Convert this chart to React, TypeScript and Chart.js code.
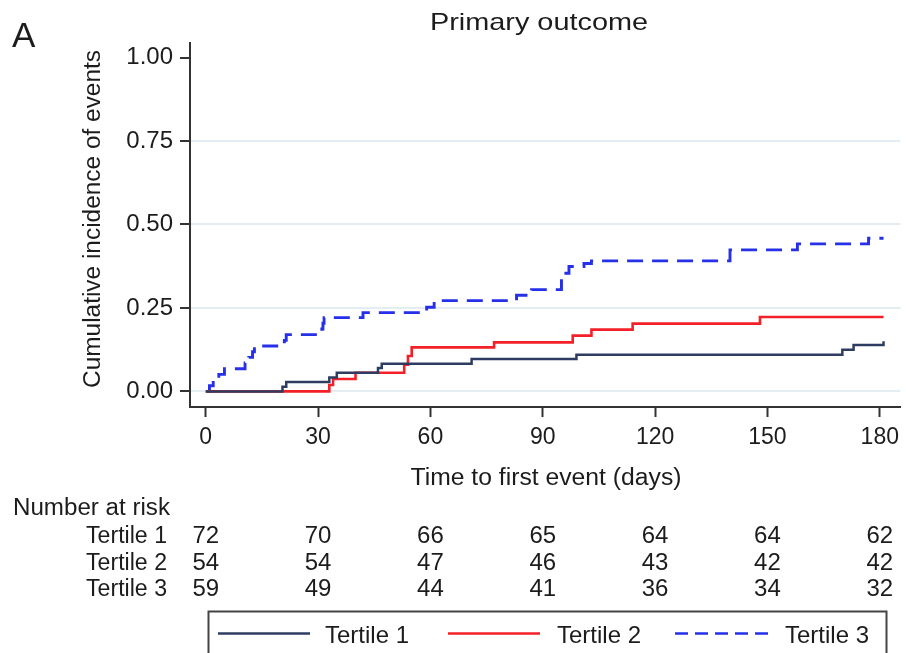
import React, { useEffect, useRef } from "react";
import { Chart, registerables } from "chart.js";

Chart.register(...registerables);

// ---------- data ----------
const xTickValues = [0, 30, 60, 90, 120, 150, 180];
const yTickValues = [0, 0.25, 0.5, 0.75, 1];
const seriesNames = ["Tertile 1", "Tertile 2", "Tertile 3"];

const t1Days = [0, 20.5, 21.5, 33, 35, 46, 47, 71, 99, 170, 173, 181];
const t1Vals = [0, 0.014, 0.028, 0.042, 0.056, 0.07, 0.083, 0.097, 0.11, 0.125, 0.139, 0.15];

const t2Days = [0, 33, 34, 40, 53, 54, 55, 77, 98, 103, 114, 148, 181];
const t2Vals = [0, 0.019, 0.037, 0.056, 0.08, 0.106, 0.132, 0.147, 0.167, 0.185, 0.203, 0.223, 0.223];

const t3Days = [0.5, 1, 2, 3.5, 5, 10.5, 11.5, 12.5, 13, 21, 21.5, 31, 31.3, 31.6, 42, 59, 61, 83, 87, 95, 97, 101, 103, 140, 158, 177, 181];
const t3Vals = [0, 0.017, 0.034, 0.051, 0.068, 0.085, 0.102, 0.119, 0.136, 0.153, 0.17, 0.187, 0.204, 0.221, 0.236, 0.252, 0.272, 0.288, 0.305, 0.354, 0.374, 0.383, 0.391, 0.424, 0.442, 0.459, 0.459];

const risk1 = [72, 70, 66, 65, 64, 64, 62];
const risk2 = [54, 54, 47, 46, 43, 42, 42];
const risk3 = [59, 49, 44, 41, 36, 34, 32];

const titleText = "Primary outcome";
const panelLabel = "A";
const yTitle = "Cumulative incidence of events";
const xTitle = "Time to first event (days)";
const riskHeader = "Number at risk";

// ---------- styles ----------
const FONT = '"Liberation Sans", Arial, Helvetica, sans-serif';
const TEXT = "#1c1c1c";
const AXIS = "#333333";
const GRID = "#e4edf2";
const colors = ["#2f3c62", "#f42028", "#2530e8"];

function drawText(
  ctx: CanvasRenderingContext2D,
  s: string,
  x: number,
  y: number,
  size: number,
  align: CanvasTextAlign,
  targetW?: number,
  rotate = 0
) {
  ctx.save();
  ctx.font = `${size}px ${FONT}`;
  ctx.fillStyle = TEXT;
  ctx.textBaseline = "alphabetic";
  ctx.textAlign = align;
  ctx.translate(x, y);
  if (rotate) ctx.rotate(rotate);
  if (targetW) {
    const w = ctx.measureText(s).width;
    ctx.scale(targetW / w, 1);
  }
  ctx.fillText(s, 0, 0);
  ctx.restore();
}

const decorPlugin = {
  id: "decor",
  afterDraw(chart: any) {
    const ctx: CanvasRenderingContext2D = chart.ctx;
    const xs = chart.scales.x;
    drawText(ctx, panelLabel, 12, 47, 35, "left");
    drawText(ctx, titleText, 539, 30, 24, "center", 218);
    drawText(ctx, yTitle, 100, 219, 23, "center", 338, -Math.PI / 2);
    drawText(ctx, xTitle, 546, 485, 23, "center", 271);
    drawText(ctx, riskHeader, 13, 515, 23, "left", 157);

    const rows = [risk1, risk2, risk3];
    const baselines = [543, 569.5, 596];
    rows.forEach((row, r) => {
      drawText(ctx, seriesNames[r], 167, baselines[r], 23, "right", 81);
      row.forEach((n, i) => {
        const px = xs.getPixelForValue(xTickValues[i]);
        drawText(ctx, String(n), px, baselines[r], 24, "center");
      });
    });

    // legend box
    ctx.save();
    ctx.strokeStyle = "#444";
    ctx.lineWidth = 2;
    ctx.strokeRect(208.5, 611.5, 678, 60);
    const ly = 633.5;
    const items = [
      { x0: 218, x1: 310, tx: 325, dash: [] as number[] },
      { x0: 448, x1: 540, tx: 557, dash: [] as number[] },
      { x0: 675, x1: 770, tx: 785, dash: [13, 7] },
    ];
    items.forEach((it, i) => {
      ctx.beginPath();
      ctx.strokeStyle = colors[i];
      ctx.lineWidth = 2.5;
      ctx.setLineDash(it.dash);
      ctx.moveTo(it.x0, ly);
      ctx.lineTo(it.x1, ly);
      ctx.stroke();
      ctx.setLineDash([]);
      drawText(ctx, seriesNames[i], it.tx, 643, 24, "left");
    });
    ctx.restore();
  },
};

export default function App() {
  const ref = useRef<HTMLCanvasElement | null>(null);

  useEffect(() => {
    if (!ref.current) return;
    const mk = (days: number[], vals: number[]) => days.map((d, i) => ({ x: d, y: vals[i] }));
    const chart = new Chart(ref.current, {
      type: "line",
      data: {
        datasets: [
          { label: seriesNames[0], data: mk(t1Days, t1Vals), borderColor: colors[0], borderWidth: 2.5, stepped: true, pointRadius: 0, fill: false },
          { label: seriesNames[1], data: mk(t2Days, t2Vals), borderColor: colors[1], borderWidth: 2.6, stepped: true, pointRadius: 0, fill: false },
          { label: seriesNames[2], data: mk(t3Days, t3Vals), borderColor: colors[2], borderWidth: 2.9, borderDash: [16, 9], stepped: true, pointRadius: 0, fill: false },
        ],
      },
      options: {
        responsive: false,
        animation: false,
        layout: { padding: { top: 43, right: 1, left: 0, bottom: 0 } },
        plugins: { legend: { display: false }, tooltip: { enabled: false }, title: { display: false } },
        scales: {
          x: {
            type: "linear",
            min: -4.2,
            max: 185.5,
            afterBuildTicks: (s: any) => { s.ticks = xTickValues.map((v) => ({ value: v })); },
            afterFit: (s: any) => { s.height = 246; },
            grid: { drawOnChartArea: false, drawTicks: true, tickLength: 10, tickColor: AXIS, tickWidth: 2 },
            border: { display: true, color: AXIS, width: 2 },
            ticks: { color: TEXT, font: { family: FONT, size: 23 }, padding: 7, maxRotation: 0, autoSkip: false },
          },
          y: {
            type: "linear",
            min: -0.0467,
            max: 1.0437,
            afterBuildTicks: (s: any) => { s.ticks = yTickValues.map((v) => ({ value: v })); },
            afterFit: (s: any) => { s.width = 190; },
            grid: {
              color: (c: any) => (c.tick && c.tick.value >= 1 ? "rgba(0,0,0,0)" : GRID),
              lineWidth: 2,
              drawTicks: true,
              tickLength: 10,
              tickColor: AXIS,
              tickWidth: 2,
            },
            border: { display: true, color: AXIS, width: 2 },
            ticks: {
              color: TEXT,
              font: { family: FONT, size: 24 },
              padding: 7,
              autoSkip: false,
              callback: (v: any) => Number(v).toFixed(2),
            },
          },
        },
      },
      plugins: [decorPlugin],
    });
    return () => chart.destroy();
  }, []);

  return (
    <div style={{ position: "absolute", left: 0, top: 0, width: 906, height: 653, background: "#fff" }}>
      <canvas ref={ref} width={906} height={653} style={{ display: "block" }} />
    </div>
  );
}
